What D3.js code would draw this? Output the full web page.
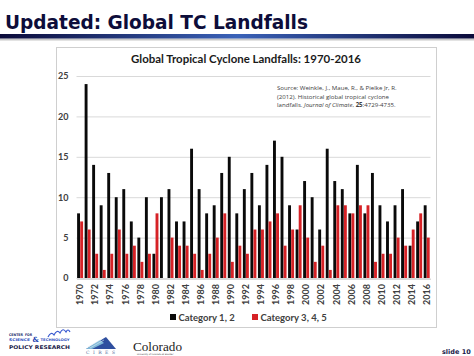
<!DOCTYPE html>
<html><head><meta charset="utf-8">
<script src="https://cdn.jsdelivr.net/npm/d3@7"></script>
<style>
html,body{margin:0;padding:0;background:#fff;}
svg{display:block;}
</style></head>
<body><svg id="c" width="474" height="356"></svg>
<script>
const years = [1970,1971,1972,1973,1974,1975,1976,1977,1978,1979,1980,1981,1982,1983,1984,1985,1986,1987,1988,1989,1990,1991,1992,1993,1994,1995,1996,1997,1998,1999,2000,2001,2002,2003,2004,2005,2006,2007,2008,2009,2010,2011,2012,2013,2014,2015,2016];
const cat12  = [8,24,14,9,13,10,11,7,5,10, 3,10,11,7,7,16,11,8,9,13, 15,8,11,13,9,14,17,15,9,6, 12,10,6,16,12,11,8,14,8,13, 9,7,9,11,4,7,9];
const cat345 = [7,6,3,1,3,6,3,4,2,3, 8,0,5,4,4,3,1,3,5,8, 2,4,3,6,6,7,8,4,6,9, 5,2,4,1,9,9,8,9,9,2, 3,3,5,4,6,8,5];
const seriesNames = ["Category 1, 2", "Category 3, 4, 5"];
const seriesColors = ["#0a0a0a", "#d62226"];
const yTicks = [0,5,10,15,20,25];
const slideTitle = "Updated: Global TC Landfalls";
const chartTitle = "Global Tropical Cyclone Landfalls: 1970-2016";

const svg = d3.select("#c");

const defs = svg.append("defs");
const g1 = defs.append("linearGradient").attr("id","ul").attr("x1","0").attr("x2","1");
g1.append("stop").attr("offset","0").attr("stop-color","#0b0b3a");
g1.append("stop").attr("offset","0.5").attr("stop-color","#3a62b8");
g1.append("stop").attr("offset","1").attr("stop-color","#0b0b3a");

// slide title
svg.append("text").attr("x",5).attr("y",29)
  .attr("font-family","'DejaVu Sans Condensed','DejaVu Sans',sans-serif")
  .attr("font-stretch","condensed")
  .attr("font-weight","bold").attr("font-size",20).attr("fill","#0d0d3a")
  .attr("textLength",303).attr("lengthAdjust","spacingAndGlyphs")
  .text(slideTitle);

svg.append("rect").attr("x",0).attr("y",38.5).attr("width",474).attr("height",2).attr("fill","#c8c8c8");
svg.append("rect").attr("x",0).attr("y",34).attr("width",474).attr("height",4.5).attr("fill","url(#ul)");

// chart box
svg.append("rect").attr("x",56.5).attr("y",47.5).attr("width",380).attr("height",280)
  .attr("fill","#fff").attr("stroke","#cfcfcf").attr("stroke-width",1);

svg.append("text").attr("x",246).attr("y",63).attr("text-anchor","middle")
  .attr("font-family","Lato,'Open Sans',sans-serif").attr("font-weight","bold")
  .attr("font-size",11).attr("fill","#1a1a1a")
  .attr("textLength",230).attr("lengthAdjust","spacingAndGlyphs")
  .text(chartTitle);

// scales
const x = d3.scaleBand().domain(years).range([76.5, 430.5]).paddingInner(0.18).paddingOuter(0.08);
const xs = d3.scaleBand().domain([0,1]).range([0, x.bandwidth()]).padding(0);
const y = d3.scaleLinear().domain([0,25]).range([278, 76]);

// grid + y axis
const ya = svg.append("g").attr("transform","translate(76.5,0)")
  .call(d3.axisLeft(y).tickValues(yTicks).tickSize(-354).tickPadding(8));
ya.select(".domain").remove();
ya.selectAll(".tick line").attr("stroke","#d9d9d9").attr("stroke-width",1);
ya.selectAll(".tick text").attr("font-family","Lato,'Open Sans',sans-serif").attr("font-weight","bold")
  .attr("font-size",9).attr("fill","#404040");

// source note
const src = svg.append("text").attr("font-family","'Open Sans',Lato,sans-serif").attr("font-size",6.1).attr("fill","#404040");
src.append("tspan").attr("x",277).attr("y",90).text("Source: Weinkle, J., Maue, R., & Pielke Jr, R.");
src.append("tspan").attr("x",277).attr("y",98.5).text("(2012). Historical global tropical cyclone");
const l3 = src.append("tspan").attr("x",277).attr("y",107);
l3.append("tspan").text("landfalls. ");
l3.append("tspan").attr("font-style","italic").text("Journal of Climate");
l3.append("tspan").text(", ");
l3.append("tspan").attr("font-weight","bold").text("25");
l3.append("tspan").text(":4729-4735.");

// bars
const rows = years.map((yr,i)=>({year:yr, vals:[cat12[i], cat345[i]]}));
const grp = svg.append("g").selectAll("g").data(rows).join("g")
  .attr("transform", d=>`translate(${x(d.year)},0)`);
grp.selectAll("rect").data(d=>d.vals.map((v,k)=>({v,k}))).join("rect")
  .attr("x", d=>xs(d.k)).attr("width", xs.bandwidth()-0.2)
  .attr("y", d=>y(d.v)).attr("height", d=>y(0)-y(d.v))
  .attr("fill", d=>seriesColors[d.k]);

// x axis
const xa = svg.append("g").attr("transform","translate(0,279)")
  .call(d3.axisBottom(x).tickValues(years.filter(yr=>yr%2===0)).tickSize(0).tickPadding(0));
xa.select(".domain").attr("stroke","#d9d9d9");
xa.selectAll(".tick text")
  .attr("font-family","Lato,'Open Sans',sans-serif").attr("font-weight","bold")
  .attr("font-size",9).attr("fill","#404040")
  .attr("text-anchor","end").attr("transform","translate(0,5) rotate(-90)")
  .attr("x",0).attr("y",0).attr("dy","0.35em");

// legend
const leg = svg.append("g").attr("font-family","Lato,'Open Sans',sans-serif").attr("font-weight","bold").attr("font-size",9.5).attr("fill","#404040");
const legX = [170, 252];
seriesNames.forEach((n,k)=>{
  leg.append("rect").attr("x",legX[k]).attr("y",314).attr("width",6).attr("height",6).attr("fill",seriesColors[k]);
  leg.append("text").attr("x",legX[k]+8.5).attr("y",321).text(n);
});

// footer logos
const f = svg.append("g");
const sm = (t,xx,yy,fs,col,tl)=>{
  const e = f.append("text").attr("x",xx).attr("y",yy).attr("font-family","'DejaVu Sans',sans-serif")
    .attr("font-weight","bold").attr("font-size",fs).attr("fill",col).text(t);
  if (tl) e.attr("textLength",tl).attr("lengthAdjust","spacingAndGlyphs");
  return e;
};
sm("CENTER", 9, 336, 3.6, "#1a2a6a", 14);
sm("FOR", 25, 336, 3.6, "#1a2a6a", 7);
sm("SCIENCE", 9, 341.3, 3.6, "#3050c0", 21);
f.append("text").attr("x",32.5).attr("y",342.3).attr("font-family","'DejaVu Serif',serif").attr("font-weight","bold")
  .attr("font-size",7).attr("fill","#2040b0").text("&");
sm("TECHNOLOGY", 40.5, 341.3, 3.6, "#3050c0", 29);
sm("POLICY RESEARCH", 9, 348.5, 5, "#1a1a4a", 61);
f.append("path").attr("d","M48,337 q3,-6 6,-2 q3,-6 6,-2 q3,-6 6,-1 q2,-4 4,0").attr("fill","none").attr("stroke","#3a5ad0").attr("stroke-width",1.2);
// CIRES
f.append("path").attr("d","M86,349 L106,337 L116,349 Z").attr("fill","#2f4f9f");
f.append("path").attr("d","M86,349 L100,340 L104,343 L92,349 Z").attr("fill","#7fb8d8");
f.append("path").attr("d","M88,347 L102,339 M90,348 L104,340").attr("stroke","#dbe9f2").attr("stroke-width",0.6);
f.append("text").attr("x",86).attr("y",354).attr("font-family","'DejaVu Serif',serif").attr("font-size",4.5).attr("fill","#506a9a").attr("textLength",29).text("CIRES");
// Colorado
f.append("text").attr("x",133).attr("y",350.5).attr("font-family","'Liberation Serif','DejaVu Serif',serif").attr("font-size",13).attr("fill","#222").attr("textLength",49).attr("lengthAdjust","spacingAndGlyphs").text("Colorado");
f.append("text").attr("x",137).attr("y",354.5).attr("font-family","'DejaVu Sans',sans-serif").attr("font-size",2.2).attr("fill","#444").text("University of Colorado at Boulder");
// slide number
f.append("text").attr("x",442).attr("y",354).attr("font-family","'DejaVu Sans',sans-serif").attr("font-weight","bold").attr("font-size",6.5).attr("fill","#1a1a4a").text("slide 10");
</script></body></html>
